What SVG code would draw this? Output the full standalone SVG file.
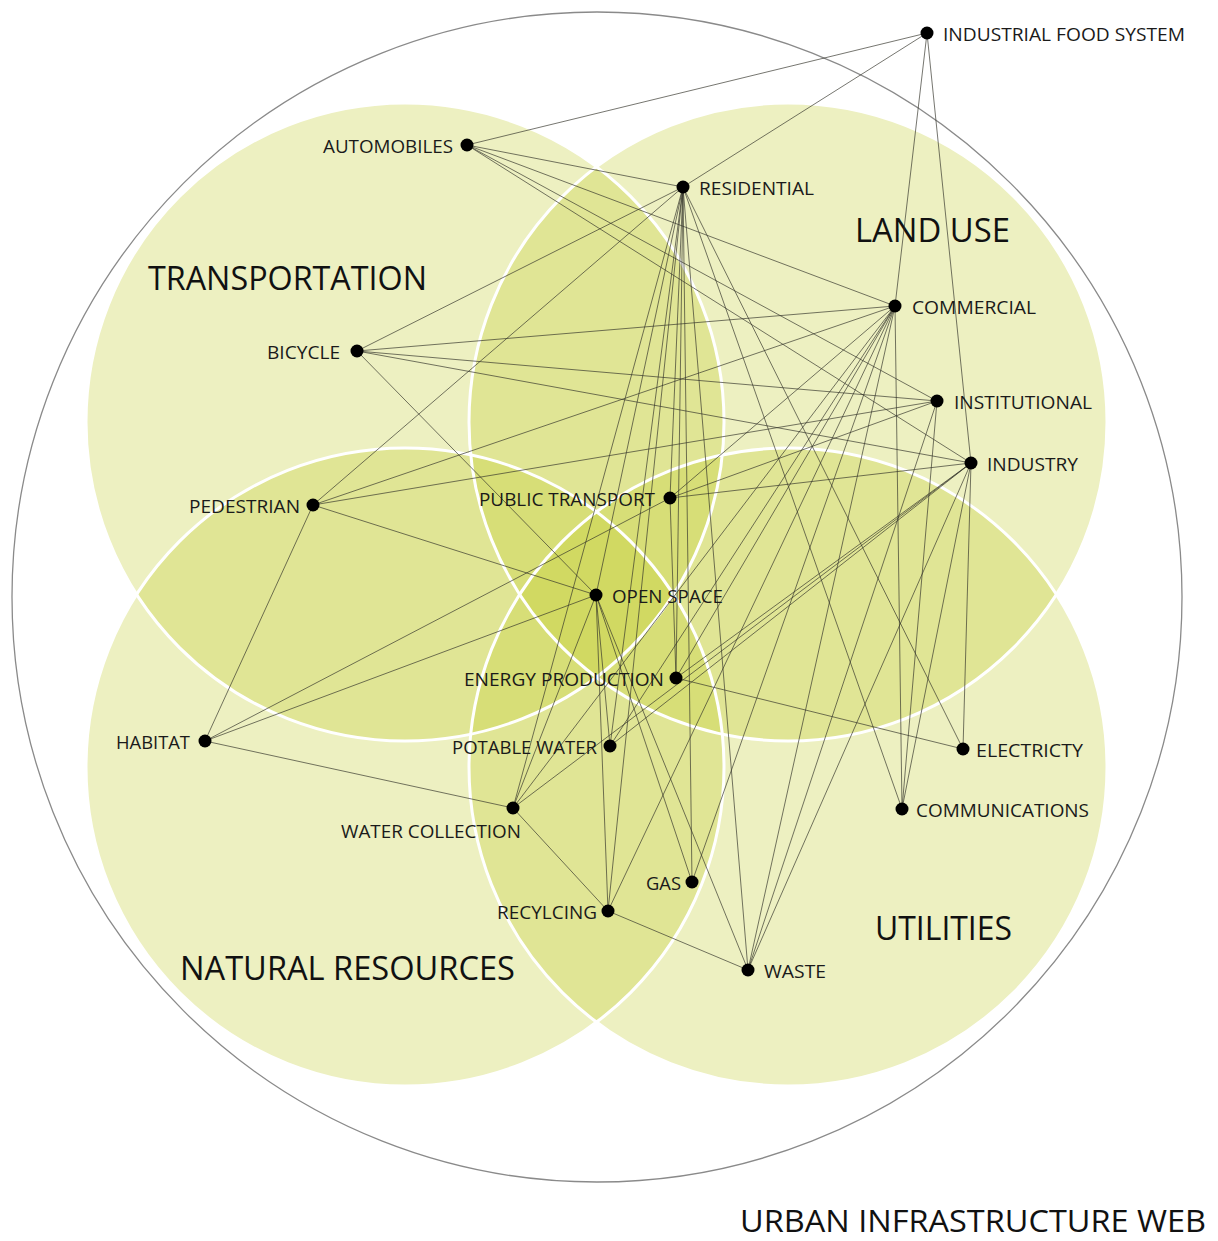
<svg xmlns="http://www.w3.org/2000/svg" width="1218" height="1241" viewBox="0 0 1218 1241">
<style>
.zone{fill:#c4ce32;fill-opacity:0.3;stroke:none}
.rim{fill:none;stroke:#ffffff;stroke-width:3}
.outer{fill:none;stroke:#8a8a8a;stroke-width:1.3}
.edges line{stroke:#33332a;stroke-width:0.9;stroke-opacity:0.75}
.dot{fill:#000}
.lbl{font-family:"Open Sans","Liberation Sans",sans-serif;font-size:19px;fill:#1a1a1a}
.big{font-family:"Open Sans","Liberation Sans",sans-serif;font-size:33px;fill:#111}
</style>
<rect width="1218" height="1241" fill="#ffffff"/>
<circle class="outer" cx="597" cy="597" r="585"/>
<g id="zones">
<circle class="zone" cx="405" cy="422" r="319"/>
<circle class="zone" cx="788" cy="422" r="319"/>
<circle class="zone" cx="405" cy="767" r="319"/>
<circle class="zone" cx="788" cy="767" r="319"/>
<circle class="rim" cx="405" cy="422" r="319"/>
<circle class="rim" cx="788" cy="422" r="319"/>
<circle class="rim" cx="405" cy="767" r="319"/>
<circle class="rim" cx="788" cy="767" r="319"/>
</g>
<g id="zone-labels">
<text class="big" x="148" y="290" textLength="279" lengthAdjust="spacingAndGlyphs">TRANSPORTATION</text>
<text class="big" x="855" y="242" textLength="155" lengthAdjust="spacingAndGlyphs">LAND USE</text>
<text class="big" x="180" y="980" textLength="335" lengthAdjust="spacingAndGlyphs">NATURAL RESOURCES</text>
<text class="big" x="875" y="940" textLength="137" lengthAdjust="spacingAndGlyphs">UTILITIES</text>
<text class="big" x="740" y="1232" style="font-size:31px" textLength="466" lengthAdjust="spacingAndGlyphs">URBAN INFRASTRUCTURE WEB</text>
</g>
<g id="connectors" class="edges">
<line x1="927" y1="33" x2="467" y2="145"/>
<line x1="927" y1="33" x2="683" y2="187"/>
<line x1="927" y1="33" x2="895" y2="306"/>
<line x1="927" y1="33" x2="971" y2="463"/>
<line x1="467" y1="145" x2="683" y2="187"/>
<line x1="467" y1="145" x2="895" y2="306"/>
<line x1="467" y1="145" x2="937" y2="401"/>
<line x1="467" y1="145" x2="971" y2="463"/>
<line x1="683" y1="187" x2="357" y2="351"/>
<line x1="683" y1="187" x2="313" y2="505"/>
<line x1="683" y1="187" x2="670" y2="498"/>
<line x1="683" y1="187" x2="596" y2="595"/>
<line x1="683" y1="187" x2="676" y2="678"/>
<line x1="683" y1="187" x2="610" y2="746"/>
<line x1="683" y1="187" x2="513" y2="808"/>
<line x1="683" y1="187" x2="608" y2="911"/>
<line x1="683" y1="187" x2="692" y2="882"/>
<line x1="683" y1="187" x2="748" y2="970"/>
<line x1="683" y1="187" x2="963" y2="749"/>
<line x1="683" y1="187" x2="902" y2="809"/>
<line x1="357" y1="351" x2="895" y2="306"/>
<line x1="357" y1="351" x2="937" y2="401"/>
<line x1="357" y1="351" x2="971" y2="463"/>
<line x1="357" y1="351" x2="596" y2="595"/>
<line x1="313" y1="505" x2="895" y2="306"/>
<line x1="313" y1="505" x2="937" y2="401"/>
<line x1="313" y1="505" x2="596" y2="595"/>
<line x1="313" y1="505" x2="205" y2="741"/>
<line x1="205" y1="741" x2="670" y2="498"/>
<line x1="205" y1="741" x2="596" y2="595"/>
<line x1="205" y1="741" x2="513" y2="808"/>
<line x1="670" y1="498" x2="895" y2="306"/>
<line x1="670" y1="498" x2="971" y2="463"/>
<line x1="670" y1="498" x2="676" y2="678"/>
<line x1="596" y1="595" x2="610" y2="746"/>
<line x1="596" y1="595" x2="513" y2="808"/>
<line x1="596" y1="595" x2="608" y2="911"/>
<line x1="596" y1="595" x2="692" y2="882"/>
<line x1="596" y1="595" x2="748" y2="970"/>
<line x1="895" y1="306" x2="902" y2="809"/>
<line x1="895" y1="306" x2="676" y2="678"/>
<line x1="895" y1="306" x2="610" y2="746"/>
<line x1="895" y1="306" x2="513" y2="808"/>
<line x1="895" y1="306" x2="608" y2="911"/>
<line x1="895" y1="306" x2="692" y2="882"/>
<line x1="895" y1="306" x2="748" y2="970"/>
<line x1="937" y1="401" x2="902" y2="809"/>
<line x1="937" y1="401" x2="748" y2="970"/>
<line x1="937" y1="401" x2="670" y2="498"/>
<line x1="971" y1="463" x2="676" y2="678"/>
<line x1="971" y1="463" x2="610" y2="746"/>
<line x1="971" y1="463" x2="513" y2="808"/>
<line x1="971" y1="463" x2="963" y2="749"/>
<line x1="971" y1="463" x2="902" y2="809"/>
<line x1="971" y1="463" x2="748" y2="970"/>
<line x1="676" y1="678" x2="963" y2="749"/>
<line x1="513" y1="808" x2="608" y2="911"/>
<line x1="608" y1="911" x2="748" y2="970"/>
</g>
<g id="node-industrial-food-system"><circle class="dot" cx="927" cy="33" r="6.5"/><text class="lbl" x="943" y="41" textLength="242" lengthAdjust="spacingAndGlyphs">INDUSTRIAL FOOD SYSTEM</text></g>
<g id="node-automobiles"><circle class="dot" cx="467" cy="145" r="6.5"/><text class="lbl" x="453" y="153" text-anchor="end" textLength="130" lengthAdjust="spacingAndGlyphs">AUTOMOBILES</text></g>
<g id="node-residential"><circle class="dot" cx="683" cy="187" r="6.5"/><text class="lbl" x="699" y="195" textLength="115" lengthAdjust="spacingAndGlyphs">RESIDENTIAL</text></g>
<g id="node-commercial"><circle class="dot" cx="895" cy="306" r="6.5"/><text class="lbl" x="912" y="314" textLength="124" lengthAdjust="spacingAndGlyphs">COMMERCIAL</text></g>
<g id="node-bicycle"><circle class="dot" cx="357" cy="351" r="6.5"/><text class="lbl" x="340" y="359" text-anchor="end" textLength="73" lengthAdjust="spacingAndGlyphs">BICYCLE</text></g>
<g id="node-institutional"><circle class="dot" cx="937" cy="401" r="6.5"/><text class="lbl" x="954" y="409" textLength="138" lengthAdjust="spacingAndGlyphs">INSTITUTIONAL</text></g>
<g id="node-industry"><circle class="dot" cx="971" cy="463" r="6.5"/><text class="lbl" x="987" y="471" textLength="91" lengthAdjust="spacingAndGlyphs">INDUSTRY</text></g>
<g id="node-pedestrian"><circle class="dot" cx="313" cy="505" r="6.5"/><text class="lbl" x="300" y="513" text-anchor="end" textLength="111" lengthAdjust="spacingAndGlyphs">PEDESTRIAN</text></g>
<g id="node-public-transport"><circle class="dot" cx="670" cy="498" r="6.5"/><text class="lbl" x="655" y="506" text-anchor="end" textLength="176" lengthAdjust="spacingAndGlyphs">PUBLIC TRANSPORT</text></g>
<g id="node-open-space"><circle class="dot" cx="596" cy="595" r="6.5"/><text class="lbl" x="612" y="603" textLength="111" lengthAdjust="spacingAndGlyphs">OPEN SPACE</text></g>
<g id="node-energy-production"><circle class="dot" cx="676" cy="678" r="6.5"/><text class="lbl" x="664" y="686" text-anchor="end" textLength="200" lengthAdjust="spacingAndGlyphs">ENERGY PRODUCTION</text></g>
<g id="node-habitat"><circle class="dot" cx="205" cy="741" r="6.5"/><text class="lbl" x="190" y="749" text-anchor="end" textLength="74" lengthAdjust="spacingAndGlyphs">HABITAT</text></g>
<g id="node-potable-water"><circle class="dot" cx="610" cy="746" r="6.5"/><text class="lbl" x="597" y="754" text-anchor="end" textLength="145" lengthAdjust="spacingAndGlyphs">POTABLE WATER</text></g>
<g id="node-electricty"><circle class="dot" cx="963" cy="749" r="6.5"/><text class="lbl" x="976" y="757" textLength="107" lengthAdjust="spacingAndGlyphs">ELECTRICTY</text></g>
<g id="node-communications"><circle class="dot" cx="902" cy="809" r="6.5"/><text class="lbl" x="916" y="817" textLength="173" lengthAdjust="spacingAndGlyphs">COMMUNICATIONS</text></g>
<g id="node-water-collection"><circle class="dot" cx="513" cy="808" r="6.5"/><text class="lbl" x="341" y="838" textLength="180" lengthAdjust="spacingAndGlyphs">WATER COLLECTION</text></g>
<g id="node-gas"><circle class="dot" cx="692" cy="882" r="6.5"/><text class="lbl" x="681" y="890" text-anchor="end" textLength="35" lengthAdjust="spacingAndGlyphs">GAS</text></g>
<g id="node-recylcing"><circle class="dot" cx="608" cy="911" r="6.5"/><text class="lbl" x="597" y="919" text-anchor="end" textLength="100" lengthAdjust="spacingAndGlyphs">RECYLCING</text></g>
<g id="node-waste"><circle class="dot" cx="748" cy="970" r="6.5"/><text class="lbl" x="764" y="978" textLength="62" lengthAdjust="spacingAndGlyphs">WASTE</text></g>
</svg>
